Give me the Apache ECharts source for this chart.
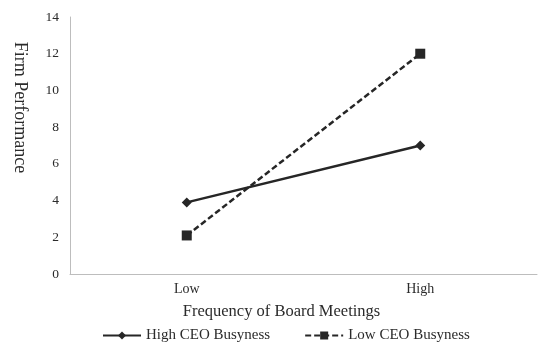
<!DOCTYPE html>
<html>
<head>
<meta charset="utf-8">
<script src="https://cdn.jsdelivr.net/npm/echarts@6/dist/echarts.min.js"></script>
<style>
  html, body { margin: 0; padding: 0; background: #fff; }
  #chart { width: 540px; height: 343px; }
</style>
</head>
<body>
<div id="chart"></div>
<script>
// Board meeting frequency categories
const categories = ['Low', 'High'];
// Firm performance for each CEO busyness group
const highBusyness = [3.9, 7.0];
const lowBusyness = [2.1, 12.0];
const seriesNames = ['High CEO Busyness', 'Low CEO Busyness'];

const FONT = '"Liberation Serif", "DejaVu Serif", serif';
const INK = '#2b2b2b';

const chart = echarts.init(document.getElementById('chart'));
chart.setOption({
  animation: false,
  textStyle: { fontFamily: FONT, color: INK },
  grid: { left: 70, right: 3, top: 17, bottom: 69, outerBoundsMode: 'none' },
  legend: {
    top: 323,
    left: 97,
    itemGap: 34,
    itemWidth: 38,
    itemHeight: 10,
    textStyle: { fontFamily: FONT, fontSize: 15, color: INK },
    data: seriesNames
  },
  xAxis: {
    type: 'category',
    data: categories,
    boundaryGap: true,
    name: 'Frequency of Board Meetings',
    nameLocation: 'middle',
    nameGap: 29,
    nameTextStyle: { fontFamily: FONT, fontSize: 16.5, color: INK, padding: [0, 44, 0, 0] },
    axisLine: { lineStyle: { color: '#bdbdbd', width: 1 } },
    axisTick: { show: false },
    axisLabel: { fontFamily: FONT, fontSize: 14, color: INK, margin: 8 }
  },
  yAxis: {
    type: 'value',
    min: 0,
    max: 14,
    interval: 2,
    name: 'Firm Performance',
    nameLocation: 'middle',
    nameRotate: -90,
    nameGap: 41,
    nameTextStyle: { fontFamily: FONT, fontSize: 18, color: INK, padding: [0, 76, 0, 0] },
    axisLine: { show: true, lineStyle: { color: '#bdbdbd', width: 1 } },
    axisTick: { show: false },
    splitLine: { show: false },
    axisLabel: { fontFamily: FONT, fontSize: 13.5, color: INK, margin: 11 }
  },
  series: [
    {
      name: seriesNames[0],
      type: 'line',
      data: highBusyness,
      symbol: 'diamond',
      symbolSize: 10,
      itemStyle: { color: '#262626' },
      lineStyle: { color: '#262626', width: 2.5, type: 'solid' }
    },
    {
      name: seriesNames[1],
      type: 'line',
      data: lowBusyness,
      symbol: 'rect',
      symbolSize: 10,
      itemStyle: { color: '#262626' },
      lineStyle: { color: '#262626', width: 2.5, type: [6, 3] }
    }
  ]
});
</script>
</body>
</html>
